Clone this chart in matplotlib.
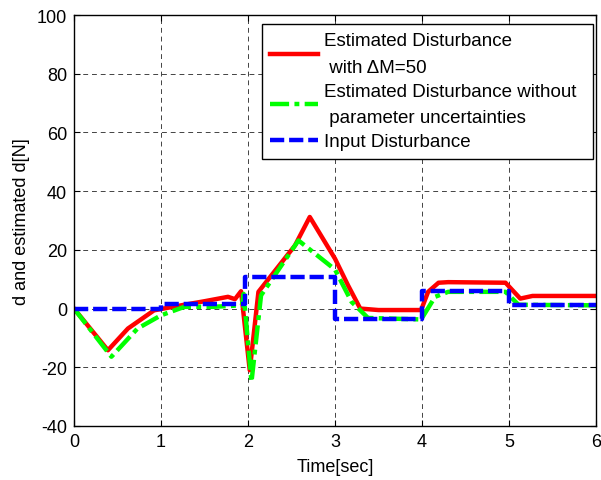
import matplotlib
matplotlib.use("Agg")
import matplotlib.pyplot as plt

plt.rcParams['font.family'] = ['Liberation Sans', 'DejaVu Sans']
plt.rcParams['axes.unicode_minus'] = False

# Estimated disturbance with dM=50 (red)
t_red = [0, 0.39, 0.62, 0.92, 1.23, 1.5, 1.77, 1.85, 1.92, 2.02, 2.12, 2.54, 2.71, 3.0, 3.15, 3.29, 3.5, 3.99,
         4.07, 4.19, 4.3, 4.96, 5.13, 5.27, 6.0]
d_red = [0, -14.2, -6.8, -0.6, 1.1, 2.5, 4.0, 3.2, 5.9, -21, 5.7, 21.5, 31.2, 17, 7.9, 0, -0.5, -0.5,
         5.7, 8.8, 9.0, 8.8, 3.4, 4.3, 4.3]

# Estimated disturbance without parameter uncertainties (green)
t_green = [0, 0.43, 0.73, 1.0, 1.27, 1.6, 1.93, 1.95, 2.04, 2.15, 2.58, 3.0, 3.19, 3.38, 3.99,
           4.15, 4.3, 4.96, 5.11, 6.0]
d_green = [0, -16.4, -6.8, -2.3, 0.6, 0.6, 1.1, 5.0, -25, 4.5, 23.2, 13.3, 2.3, -3.2, -3.7,
           4.0, 5.7, 5.7, 1.3, 1.1]

# Input disturbance (blue)
t_blue = [0, 1.0, 1.0, 1.97, 1.97, 3.0, 3.0, 4.0, 4.0, 5.0, 5.0, 6.0]
d_blue = [0, 0, 1.5, 1.5, 10.8, 10.8, -3.4, -3.4, 5.9, 5.9, 1.1, 1.1]

labels = ['Estimated Disturbance\n with \u0394M=50',
          'Estimated Disturbance without\n parameter uncertainties',
          'Input Disturbance']

fig = plt.figure(figsize=(6.01, 4.81), dpi=100)
ax = fig.add_axes([74/601, 1 - 427/481, (596-74)/601, (427-16)/481])

ax.plot(t_red, d_red, color='#ff0000', lw=3.2, label=labels[0])
ax.plot(t_green, d_green, color='#00ff00', lw=3.2, ls=(0, (4.3, 1.2, 1.1, 1.2)), label=labels[1])
ax.plot(t_blue, d_blue, color='#0000ff', lw=3.2, ls=(0, (3.2, 1.1)), label=labels[2])

ax.set_xlim(0, 6)
ax.set_ylim(-40, 100)
ax.set_xticks(range(0, 7))
ax.set_yticks(range(-40, 101, 20))
ax.tick_params(direction='in', labelsize=13, length=4, top=True, right=True, pad=5)
ax.grid(True, color='#222222', ls=(0, (5, 4)), lw=0.7, alpha=0.85)
for s in ax.spines.values():
    s.set_linewidth(1.0)

ax.set_xlabel('Time[sec]', fontsize=13, labelpad=6)
ax.set_ylabel('d and estimated d[N]', fontsize=13, labelpad=5)

x0 = (262 - 74) / 522
w = 331 / 522
top = (427 - 25) / 411
leg = ax.legend(loc='upper left', bbox_to_anchor=(x0, top - 0.5, w, 0.5), mode='expand',
                fontsize=13.5, frameon=True, fancybox=False,
                edgecolor='black', framealpha=1, handlelength=2.56, handletextpad=0.27,
                labelspacing=0.39, borderpad=0.45, borderaxespad=0.0)
leg.get_frame().set_linewidth(1.0)
for txt in leg.get_texts():
    txt.set_linespacing(1.7)

fig.savefig('out.png', dpi=100)
